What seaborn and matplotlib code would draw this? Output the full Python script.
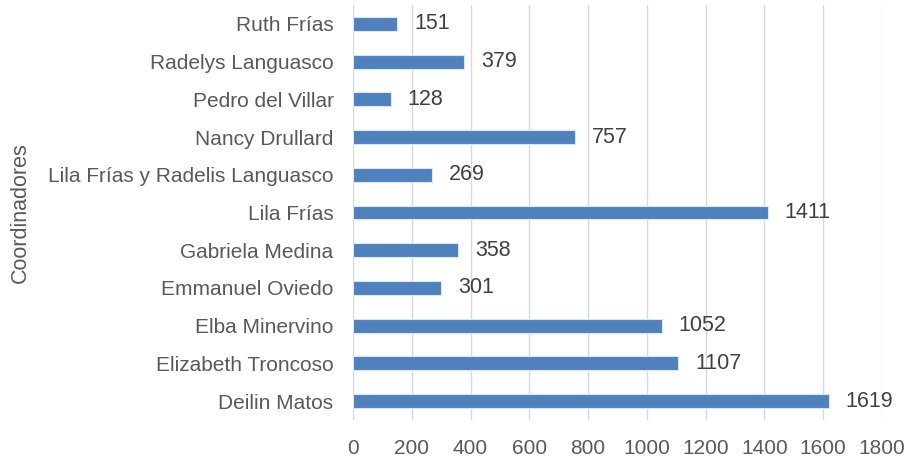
import matplotlib
matplotlib.use("Agg")
import matplotlib.pyplot as plt
import seaborn as sns
import pandas as pd

coordinadores = ["Ruth Frías", "Radelys Languasco", "Pedro del Villar", "Nancy Drullard",
                 "Lila Frías y Radelis Languasco", "Lila Frías", "Gabriela Medina",
                 "Emmanuel Oviedo", "Elba Minervino", "Elizabeth Troncoso", "Deilin Matos"]
valores = [151, 379, 128, 757, 269, 1411, 358, 301, 1052, 1107, 1619]
xticks = [0, 200, 400, 600, 800, 1000, 1200, 1400, 1600, 1800]

df = pd.DataFrame({"Coordinadores": coordinadores, "Valor": valores})

sns.set_theme(style="white")
plt.rcParams['font.family'] = ['Liberation Sans', 'DejaVu Sans']

fig = plt.figure(figsize=(9.13, 4.68), dpi=100)
ax = fig.add_axes([0.3866, 0.1026, 0.966 - 0.3866, 0.9893 - 0.1026])

sns.barplot(data=df, x="Valor", y="Coordinadores", order=coordinadores, orient="h",
            color="#4F81BD", saturation=1, width=0.37, edgecolor="#dce6f2", linewidth=0.8, ax=ax)

ax.set_xlim(0, 1800)
ax.set_ylim(10.5, -0.5)
ax.set_xticks(xticks)
ax.set_xticklabels([str(t) for t in xticks])
ax.grid(axis="x", color="#d9d9d9", linewidth=1)
ax.set_axisbelow(True)
for s in ax.spines.values():
    s.set_visible(False)
ax.tick_params(axis="both", length=0, labelsize=15, colors="#595959")
ax.tick_params(axis="x", pad=14)
ax.tick_params(axis="y", pad=14)
ax.set_xlabel("")
ax.set_ylabel("Coordinadores", fontsize=15.5, color="#595959", labelpad=12)

for c in ax.containers:
    ax.bar_label(c, labels=[str(v) for v in valores], padding=12, fontsize=15.5, color="#404040")

fig.savefig("out.png", dpi=100)
